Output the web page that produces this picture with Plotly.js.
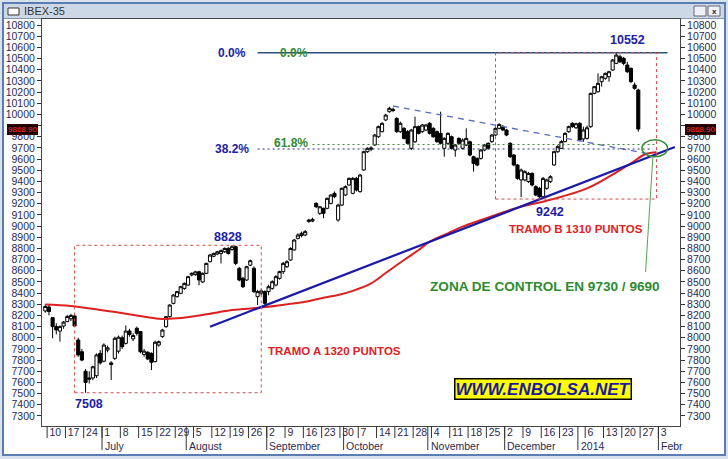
<!DOCTYPE html>
<html><head><meta charset="utf-8">
<script src="https://cdn.plot.ly/plotly-3.0.1.min.js"></script>
<style>html,body{margin:0;padding:0;background:#fff;overflow:hidden}#chart{width:728px;height:459px}</style>
</head><body><div id="chart"></div>
<script>
// ---------- DATA (IBEX-35 daily candles) ----------
const dates = [
'2013-06-07','2013-06-10','2013-06-11','2013-06-12','2013-06-13','2013-06-14','2013-06-17','2013-06-18','2013-06-19','2013-06-20','2013-06-21','2013-06-24','2013-06-25','2013-06-26','2013-06-27','2013-06-28',
'2013-07-01','2013-07-02','2013-07-03','2013-07-04','2013-07-05','2013-07-08','2013-07-09','2013-07-10','2013-07-11','2013-07-12','2013-07-15','2013-07-16','2013-07-17','2013-07-18','2013-07-19','2013-07-22','2013-07-23','2013-07-24','2013-07-25','2013-07-26','2013-07-29','2013-07-30','2013-07-31',
'2013-08-01','2013-08-02','2013-08-05','2013-08-06','2013-08-07','2013-08-08','2013-08-09','2013-08-12','2013-08-13','2013-08-14','2013-08-15','2013-08-16','2013-08-19','2013-08-20','2013-08-21','2013-08-22','2013-08-23','2013-08-26','2013-08-27','2013-08-28','2013-08-29','2013-08-30',
'2013-09-02','2013-09-03','2013-09-04','2013-09-05','2013-09-06','2013-09-09','2013-09-10','2013-09-11','2013-09-12','2013-09-13','2013-09-16','2013-09-17','2013-09-18','2013-09-19','2013-09-20','2013-09-23','2013-09-24','2013-09-25','2013-09-26','2013-09-27','2013-09-30',
'2013-10-01','2013-10-02','2013-10-03','2013-10-04','2013-10-07','2013-10-08','2013-10-09','2013-10-10','2013-10-11','2013-10-14','2013-10-15','2013-10-16','2013-10-17','2013-10-18','2013-10-21','2013-10-22','2013-10-23','2013-10-24','2013-10-25','2013-10-28','2013-10-29','2013-10-30','2013-10-31',
'2013-11-01','2013-11-04','2013-11-05','2013-11-06','2013-11-07','2013-11-08','2013-11-11','2013-11-12','2013-11-13','2013-11-14','2013-11-15','2013-11-18','2013-11-19','2013-11-20','2013-11-21','2013-11-22','2013-11-25','2013-11-26','2013-11-27','2013-11-28','2013-11-29',
'2013-12-02','2013-12-03','2013-12-04','2013-12-05','2013-12-06','2013-12-09','2013-12-10','2013-12-11','2013-12-12','2013-12-13','2013-12-16','2013-12-17','2013-12-18','2013-12-19','2013-12-20','2013-12-23','2013-12-24','2013-12-27','2013-12-30','2013-12-31',
'2014-01-02','2014-01-03','2014-01-06','2014-01-07','2014-01-08','2014-01-09','2014-01-10','2014-01-13','2014-01-14','2014-01-15','2014-01-16','2014-01-17','2014-01-20','2014-01-21','2014-01-22','2014-01-23','2014-01-24'];
const open = [
8240,8275,8180,8100,8060,8105,8145,8170,8195,7980,7875,7700,7640,7640,7660,7860,
7790,7890,7760,7815,7880,8000,7950,8060,7990,8085,8055,7850,7870,7860,7786,7935,8010,8099,8189,8308,8368,8398,8442,
8472,8562,8565,8591,8500,8577,8681,8730,8750,8755,8770,8800,8790,8815,8621,8532,8517,8650,8622,8368,8400,8413,
8413,8442,8472,8532,8592,8636,8696,8786,8890,8915,8920,9040,9045,9203,9114,9159,9159,9203,9293,9054,9188,
9278,9368,9293,9427,9308,9502,9666,9700,9726,9800,9845,9950,10024,10045,9964,9845,9875,9845,9696,9755,9890,9845,9860,
9920,9875,9845,9830,9696,9741,9800,9681,9785,9696,9726,9755,9621,9606,9606,9681,9741,9756,9815,9875,9890,
9860,9741,9636,9547,9413,9413,9398,9472,9353,9338,9263,9338,9398,9547,9666,9696,9756,9845,9920,9880,
9920,9780,9785,9890,10188,10203,10293,10323,10337,10397,10457,10516,10502,10442,10412,10263,10218];
const high = [
8300,8300,8185,8130,8110,8150,8205,8215,8210,8000,7900,7720,7700,7750,7860,7890,
7950,7930,7790,8010,8020,8020,8110,8080,8040,8100,8060,7900,7880,7870,7975,7975,8080,8195,8300,8390,8420,8465,8495,
8555,8585,8600,8600,8585,8672,8748,8762,8778,8790,8808,8812,8828,8825,8635,8545,8645,8700,8640,8430,8440,8425,
8475,8515,8560,8600,8680,8695,8810,8885,8935,8950,8965,9065,9075,9215,9180,9165,9255,9285,9310,9200,9345,
9365,9435,9440,9440,9465,9675,9705,9715,9825,9900,9930,10005,10069,10060,9975,9935,9885,9860,9870,9979,9900,9915,9915,
9930,9885,9855,10024,9795,9840,9810,9735,9795,9785,9875,9765,9630,9615,9690,9735,9750,9825,9885,9920,9905,
9870,9750,9645,9555,9515,9500,9485,9480,9365,9350,9440,9425,9455,9675,9725,9770,9840,9900,9930,9925,
9930,9890,9900,10195,10255,10367,10345,10375,10390,10495,10552,10535,10515,10470,10420,10285,10230];
const low = [
8225,8200,7995,8030,7965,8080,8140,8150,8100,7830,7790,7508,7590,7620,7640,7760,
7780,7870,7622,7800,7860,7900,7940,8010,7970,8020,7860,7830,7800,7711,7780,7920,8000,8090,8180,8300,8360,8390,8430,
8465,8550,8555,8470,8490,8570,8675,8720,8740,8666,8760,8745,8780,8650,8505,8445,8510,8640,8400,8293,8380,8290,
8380,8430,8460,8520,8570,8625,8690,8780,8880,8900,8910,9030,9035,9160,9100,9070,9150,9195,9250,9040,9180,
9270,9360,9285,9310,9300,9495,9655,9670,9720,9790,9840,9940,10015,10020,9835,9835,9775,9730,9680,9745,9820,9835,9850,
9820,9790,9745,9730,9621,9730,9685,9621,9730,9685,9715,9625,9487,9535,9595,9670,9685,9745,9805,9865,9850,
9805,9610,9535,9415,9260,9400,9385,9355,9268,9242,9255,9325,9385,9540,9655,9690,9750,9835,9880,9870,
9760,9755,9775,9880,10180,10195,10248,10310,10293,10390,10450,10460,10440,10370,10280,10220,9845];
const close = [
8280,8235,8100,8070,8100,8140,8190,8200,8105,7846,7800,7600,7630,7740,7846,7775,
7935,7910,7775,7995,8005,7920,8060,8030,8020,8040,7875,7880,7810,7780,7960,7965,8069,8189,8293,8383,8413,8457,8487,
8547,8577,8590,8517,8577,8666,8741,8755,8770,8780,8800,8755,8815,8666,8517,8457,8636,8690,8413,8413,8420,8308,
8457,8502,8547,8592,8666,8681,8800,8875,8920,8935,8950,9054,9060,9173,9173,9114,9248,9278,9263,9188,9338,
9353,9427,9427,9323,9457,9666,9696,9690,9815,9890,9920,9994,10054,10035,9845,9920,9785,9741,9860,9890,9830,9905,9905,
9830,9800,9756,9741,9785,9830,9696,9726,9741,9770,9785,9636,9561,9546,9681,9726,9696,9815,9875,9910,9860,
9815,9621,9547,9427,9502,9487,9472,9368,9278,9263,9427,9413,9442,9666,9711,9756,9830,9890,9890,9916,
9771,9860,9880,10188,10248,10278,10337,10367,10382,10487,10531,10472,10457,10382,10293,10233,9869];
const futureDates = ['2014-01-27','2014-01-28','2014-01-29','2014-01-30','2014-01-31','2014-02-03','2014-02-04','2014-02-05','2014-02-06','2014-02-07','2014-02-10','2014-02-11','2014-02-12'];

// curve (moving average) drawn on the chart
const maDates = ['2013-06-07','2013-06-18','2013-07-01','2013-07-12','2013-07-22','2013-07-29','2013-08-08','2013-08-19','2013-08-29','2013-09-09','2013-09-16','2013-09-23','2013-09-27','2013-10-03','2013-10-10','2013-10-16','2013-10-23','2013-10-29','2013-11-01','2013-11-08','2013-11-14','2013-11-21','2013-12-05','2013-12-18','2014-01-06','2014-01-14','2014-01-22','2014-01-28','2014-01-31'];
const maValues = [8298,8285,8245,8200,8170,8175,8210,8248,8270,8299,8323,8359,8383,8420,8487,8580,8696,8786,8860,8935,8995,9054,9165,9235,9338,9442,9562,9645,9662];

const trendDates = ['2013-08-09','2014-02-07'];   const trendValues = [8099, 9708];
const resistDates = ['2013-10-18','2014-01-30'];  const resistValues = [10075, 9640];
const fib0Dates = ['2013-08-28','2014-02-05'];    const fib0Value = 10552;
const fib382Dates = ['2013-08-28','2014-01-30'];  const fib382Value = 9690;
const fib618Dates = ['2013-09-18','2014-01-31'];  const fib618Value = 9730;
const boxA = {from:'2013-06-19', to:'2013-08-29', low:7508, high:8828};
const boxB = {from:'2013-11-27', to:'2014-01-31', low:9242, high:10552};
const zone = {from:'2014-01-27', to:'2014-02-05', low:9620, high:9772};
const pointer = {fromDate:'2014-01-30', fromValue:9627, toDate:'2014-01-28', toValue:8589};
const lastPrice = 9868.90;

const weekTicks = ['2013-06-10','2013-06-17','2013-06-24','2013-07-01','2013-07-08','2013-07-15','2013-07-22','2013-07-29','2013-08-05','2013-08-12','2013-08-19','2013-08-26','2013-09-02','2013-09-09','2013-09-16','2013-09-23','2013-09-30','2013-10-07','2013-10-14','2013-10-21','2013-10-28','2013-11-04','2013-11-11','2013-11-18','2013-11-25','2013-12-02','2013-12-09','2013-12-16','2013-12-23','2014-01-06','2014-01-13','2014-01-20','2014-01-27','2014-02-03'];
const weekLabels = ['10','17','24','1','8','15','22','29','5','12','19','26','2','9','16','23','30','7','14','21','28','4','11','18','25','2','9','16','23','6','13','20','27','3'];
const monthStarts = ['2013-07-01','2013-08-01','2013-09-02','2013-10-01','2013-11-01','2013-12-02','2014-01-02','2014-02-03'];
const monthLabels = ['July','August','September','October','November','December','2014','Febr'];
const yTicks = [7300,7400,7500,7600,7700,7800,7900,8000,8100,8200,8300,8400,8500,8600,8700,8800,8900,9000,9100,9200,9300,9400,9500,9600,9700,9800,9900,10000,10100,10200,10300,10400,10500,10600,10700,10800];

// text labels on the chart: [text, date, value]
const blueLabels = [['10552','2014-01-21',10665],['8828','2013-08-16',8902],['7508','2013-06-25',7407],['9242','2013-12-18',9126]];

// ---------- helpers ----------
const allCats = dates.concat(futureDates);
const ix = d => allCats.indexOf(d);
const W = 728, H = 459, ML = 42, MR = 48, MT = 19, MB = 33;
const PW = W - ML - MR, PH = H - MT - MB;
const px = x => (x - ML) / PW;           // pixel -> paper
const py = y => (H - MB - y) / PH;
const FONT = 'Arial, "Liberation Sans", sans-serif';
const BLUE = '#1c1ca6', GREEN = '#2e8b2e', RED = '#e02222', AXC = '#2a2a50';

const traces = [
  {type:'candlestick', x:dates, open:open, high:high, low:low, close:close,
   increasing:{line:{color:'#000', width:1}, fillcolor:'#ffffff'},
   decreasing:{line:{color:'#000', width:1}, fillcolor:'#000000'},
   whiskerwidth:0, hoverinfo:'skip', showlegend:false},
  {type:'scatter', x:futureDates, y:futureDates.map(()=>null), mode:'lines', hoverinfo:'skip', showlegend:false},
  {type:'scatter', x:dates, y:dates.map(()=>null), yaxis:'y2', mode:'lines', hoverinfo:'skip', showlegend:false},
  {type:'scatter', x:maDates, y:maValues, mode:'lines', line:{color:'#dd2020', width:2, shape:'spline'}, hoverinfo:'skip', showlegend:false},
  {type:'scatter', x:trendDates, y:trendValues, mode:'lines', line:{color:'#1a1aa8', width:2.2}, hoverinfo:'skip', showlegend:false},
  {type:'scatter', x:resistDates, y:resistValues, mode:'lines', line:{color:'#5a6cc0', width:1.3, dash:'6px,5px'}, hoverinfo:'skip', showlegend:false},
  {type:'scatter', x:fib0Dates, y:[fib0Value,fib0Value], mode:'lines', line:{color:'#2f4f78', width:1.5}, hoverinfo:'skip', showlegend:false},
  {type:'scatter', x:fib382Dates, y:[fib382Value,fib382Value], mode:'lines', line:{color:'#2a2a80', width:1, dash:'2px,3px'}, hoverinfo:'skip', showlegend:false},
  {type:'scatter', x:fib618Dates, y:[fib618Value,fib618Value], mode:'lines', line:{color:'#3a8a3a', width:1, dash:'2px,3px'}, hoverinfo:'skip', showlegend:false}
];

const shapes = [
  // window frame
  {type:'rect', xref:'paper', yref:'paper', x0:px(0), x1:px(W), y0:py(H), y1:py(0), fillcolor:'#d9e1ec', line:{width:0}, layer:'below'},
  {type:'rect', xref:'paper', yref:'paper', x0:px(3), x1:px(725), y0:py(455), y1:py(3), fillcolor:'#ffffff', line:{color:'#5a7db3', width:2}, layer:'below'},
  {type:'rect', xref:'paper', yref:'paper', x0:px(4), x1:px(724), y0:py(18), y1:py(4), fillcolor:'#cdd8e7', line:{width:0}, layer:'below'},
  {type:'line', xref:'paper', yref:'paper', x0:px(4), x1:px(724), y0:py(18.5), y1:py(18.5), line:{color:'#8796ad', width:1}, layer:'below'},
  {type:'rect', xref:'paper', yref:'paper', x0:px(8), x1:px(19), y0:py(15), y1:py(8), fillcolor:'#ffffff', line:{color:'#333', width:1}},
  {type:'rect', xref:'paper', yref:'paper', x0:px(694), x1:px(706), y0:py(16), y1:py(6), fillcolor:'#eef2f8', line:{color:'#667', width:1}},
  {type:'rect', xref:'paper', yref:'paper', x0:px(708), x1:px(720), y0:py(16), y1:py(6), fillcolor:'#eef2f8', line:{color:'#667', width:1}},
  // red dotted boxes
  {type:'rect', xref:'x', yref:'y', x0:ix(boxA.from), x1:ix(boxA.to), y0:boxA.low, y1:boxA.high, line:{color:'#d24a4a', width:1, dash:'dot'}},
  {type:'rect', xref:'x', yref:'y', x0:ix(boxB.from), x1:ix(boxB.to), y0:boxB.low, y1:boxB.high, line:{color:'#d24a4a', width:1, dash:'dot'}},
  // control zone ellipse and pointer
  {type:'circle', xref:'x', yref:'y', x0:ix(zone.from), x1:ix(zone.to), y0:zone.low, y1:zone.high, line:{color:GREEN, width:1.5}},
  {type:'line', xref:'x', yref:'y', x0:ix(pointer.fromDate), x1:ix(pointer.toDate), y0:pointer.fromValue, y1:pointer.toValue, line:{color:'#5aa05a', width:1}}
];
// week and month separators in the date strip
weekTicks.forEach(d => shapes.push({type:'line', xref:'x', yref:'paper', x0:ix(d)-0.5, x1:ix(d)-0.5, y0:0, y1:-12/PH, line:{color:'#333', width:1}}));
monthStarts.forEach(d => shapes.push({type:'line', xref:'x', yref:'paper', x0:ix(d)-0.5, x1:ix(d)-0.5, y0:0, y1:-24/PH, line:{color:'#333', width:1}}));

const tag = {showarrow:false, xanchor:'center', yanchor:'middle', bgcolor:'#1c0404', bordercolor:'#3a0000', borderwidth:1, borderpad:0, font:{family:FONT, size:8, color:'#ff2a2a'}};
const annotations = [
  {xref:'paper', yref:'paper', x:px(22), y:py(11), text:'IBEX-35', showarrow:false, xanchor:'left', yanchor:'middle', font:{family:FONT, size:11, color:'#333'}},
  {xref:'paper', yref:'paper', x:px(714), y:py(11), text:'<b>x</b>', showarrow:false, xanchor:'center', yanchor:'middle', font:{family:FONT, size:8, color:'#222'}},
  {x:ix('2013-08-19'), y:fib0Value, text:'<b>0.0%</b>', showarrow:false, font:{family:FONT, size:12, color:BLUE}},
  {x:ix('2013-09-11'), y:fib0Value, text:'<b>0.0%</b>', showarrow:false, font:{family:FONT, size:12, color:GREEN}},
  {x:ix('2013-08-19'), y:fib382Value, text:'<b>38.2%</b>', showarrow:false, font:{family:FONT, size:12, color:BLUE}},
  {x:ix('2013-09-10'), y:9742, text:'<b>61.8%</b>', showarrow:false, font:{family:FONT, size:12, color:GREEN}},
  {x:ix('2013-12-31'), y:8974, text:'<b>TRAMO B 1310 PUNTOS</b>', showarrow:false, font:{family:FONT, size:11.5, color:RED}},
  {x:ix('2013-09-26'), y:7881, text:'<b>TRAMO A 1320 PUNTOS</b>', showarrow:false, font:{family:FONT, size:11.5, color:RED}},
  {x:ix('2013-12-16'), xshift:2, y:8463, text:'<b>ZONA DE CONTROL EN 9730 / 9690</b>', showarrow:false, font:{family:FONT, size:13.6, color:GREEN}},
  {x:ix('2013-12-16'), y:7541, text:'<b><i>WWW.ENBOLSA.NET</i></b>', showarrow:false, bgcolor:'#ffff00', bordercolor:'#000', borderwidth:1.5, borderpad:0, font:{family:FONT, size:17, color:'#1a1aa0'}},
  Object.assign({xref:'paper', yref:'y', x:px(22.5), y:lastPrice, text:lastPrice.toFixed(2)}, tag),
  Object.assign({xref:'paper', yref:'y', x:px(700), y:lastPrice, text:lastPrice.toFixed(2)}, tag)
];
blueLabels.forEach(l => annotations.push({x:ix(l[1]), y:l[2], text:'<b>'+l[0]+'</b>', showarrow:false, font:{family:FONT, size:12.5, color:BLUE}}));
monthStarts.forEach((d,k) => annotations.push({x:ix(d)-0.3, xanchor:'left', yref:'paper', y:-20/PH, yanchor:'middle', text:monthLabels[k], showarrow:false, font:{family:FONT, size:10.5, color:AXC}}));

// the 9900 label sits under the last-price tag in the reference
const yLabels = yTicks.map(v => v === 9900 ? '' : String(v));
const yax = {range:[7210,10854], tickmode:'array', tickvals:yTicks, ticktext:yLabels, ticks:'outside', ticklen:4, tickcolor:'#333', showgrid:false, zeroline:false, showline:true, linecolor:'#444', linewidth:1, tickfont:{family:FONT, size:10.5, color:AXC}, fixedrange:true};

const layout = {
  width:W, height:H, margin:{l:ML, r:MR, t:MT, b:MB, pad:0},
  paper_bgcolor:'#ffffff', plot_bgcolor:'rgba(0,0,0,0)', showlegend:false,
  boxgap:0.15, boxgroupgap:0,
  xaxis:{type:'category', categoryorder:'trace', range:[-0.9,173.4], tickmode:'array', tickvals:weekTicks, ticktext:weekLabels,
         ticks:'', ticklabelposition:'outside right', ticklabelstandoff:-4, tickangle:0, showgrid:false, zeroline:false, showline:true, mirror:true, linecolor:'#444', linewidth:1,
         tickfont:{family:FONT, size:10.5, color:AXC}, rangeslider:{visible:false}, fixedrange:true},
  yaxis:Object.assign({side:'left'}, yax),
  yaxis2:Object.assign({side:'right', overlaying:'y'}, yax),
  shapes:shapes, annotations:annotations
};
Plotly.newPlot('chart', traces, layout, {displayModeBar:false, staticPlot:true});
</script></body></html>
